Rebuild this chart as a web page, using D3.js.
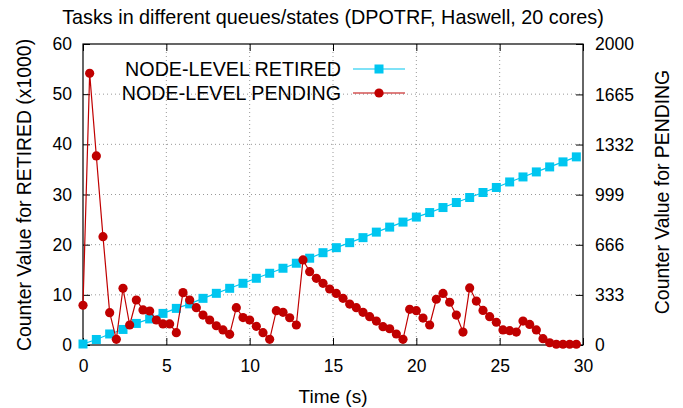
<!DOCTYPE html>
<html>
<head>
<meta charset="utf-8">
<script src="https://cdn.jsdelivr.net/npm/d3@7"></script>
<style>
  body { margin: 0; background: #fff; }
  text { font-family: "Liberation Sans", Arial, sans-serif; fill: #000; }
</style>
</head>
<body>
<svg width="683" height="408"></svg>
<script>
// sample times (s)
const retiredTimes = [0, 0.8, 1.6, 2.4, 3.2, 4.0, 4.8, 5.6, 6.4, 7.2, 8.0, 8.8, 9.6, 10.4,
  11.2, 12.0, 12.8, 13.6, 14.4, 15.2, 16.0, 16.8, 17.6, 18.4, 19.2, 20.0, 20.8, 21.6,
  22.4, 23.2, 24.0, 24.8, 25.6, 26.4, 27.2, 28.0, 28.8, 29.6];
// NODE-LEVEL RETIRED (x1000), left axis
const retiredValues = [0.2, 1.1, 2.2, 3.1, 4.3, 5.2, 6.3, 7.3, 8.2, 9.3, 10.3, 11.3, 12.3, 13.3,
  14.3, 15.3, 16.3, 17.3, 18.4, 19.4, 20.4, 21.4, 22.5, 23.5, 24.5, 25.5, 26.4, 27.4,
  28.4, 29.4, 30.4, 31.4, 32.5, 33.5, 34.5, 35.5, 36.5, 37.5];

const pendingTimes = [0, 0.4, 0.8, 1.2, 1.6, 2.0, 2.4, 2.8, 3.2, 3.6, 4.0, 4.4, 4.8, 5.2,
  5.6, 6.0, 6.4, 6.8, 7.2, 7.6, 8.0, 8.4, 8.8, 9.2, 9.6, 10.0, 10.4, 10.8, 11.2, 11.6,
  12.0, 12.4, 12.8, 13.2, 13.6, 14.0, 14.4, 14.8, 15.2, 15.6, 16.0, 16.4, 16.8, 17.2,
  17.6, 18.0, 18.4, 18.8, 19.2, 19.6, 20.0, 20.4, 20.8, 21.2, 21.6, 22.0, 22.4, 22.8,
  23.2, 23.6, 24.0, 24.4, 24.8, 25.2, 25.6, 26.0, 26.4, 26.8, 27.2, 27.6, 28.0, 28.4,
  28.8, 29.2, 29.6];
// NODE-LEVEL PENDING, right axis
const pendingValues = [264, 1805, 1256, 720, 215, 38, 377, 133, 299, 233, 226, 166, 140, 140,
  82, 348, 299, 248, 199, 166, 128, 100, 71, 248, 182, 166, 124, 82, 38, 228,
  217, 181, 133, 565, 487, 443, 410, 372, 343, 310, 272, 248, 217, 188,
  159, 122, 108, 73, 38, 237, 228, 179, 133, 304, 343, 284, 199, 86,
  379, 292, 230, 188, 151, 100, 95, 86, 159, 137, 100, 42, 15, 5,
  5, 5, 5];

const xTicks = [0, 5, 10, 15, 20, 25, 30];
const yTicks = [0, 10, 20, 30, 40, 50, 60];
const y2Ticks = [0, 333, 666, 999, 1332, 1665, 2000];

const svg = d3.select("svg");
const m = {left: 83, right: 583, top: 44, bottom: 345};
const cyan = "#00c6f0", red = "#c00000";

const x = d3.scaleLinear().domain([0, 30]).range([m.left, m.right]);
const y = d3.scaleLinear().domain([0, 60]).range([m.bottom, m.top]);
const y2 = d3.scaleLinear().domain([0, 2000]).range([m.bottom, m.top]);

// grid
const grid = svg.append("g").attr("stroke", "#999").attr("stroke-width", 1)
  .attr("stroke-dasharray", "1,3");
grid.selectAll(".gx").data(xTicks.slice(1, -1)).join("line")
  .attr("x1", d => x(d)).attr("x2", d => x(d))
  .attr("y1", m.top).attr("y2", m.bottom);
grid.selectAll(".gy").data(yTicks.slice(1, -1)).join("line")
  .attr("x1", m.left).attr("x2", m.right)
  .attr("y1", d => y(d)).attr("y2", d => y(d));

// axes with inward ticks
const tickFont = g => g.selectAll("text").style("font-size", "17.5px")
  .style("font-family", "'Liberation Sans', Arial, sans-serif").attr("fill", "#000");
const clean = g => { g.select(".domain").remove(); g.selectAll("line").attr("stroke", "#000"); };

svg.append("g").attr("transform", `translate(0,${m.bottom})`)
  .call(d3.axisBottom(x).tickValues(xTicks).tickSizeInner(-7).tickSizeOuter(0).tickPadding(15))
  .call(clean).call(tickFont);
svg.append("g").attr("transform", `translate(0,${m.top})`)
  .call(d3.axisTop(x).tickValues(xTicks).tickSizeInner(-7).tickSizeOuter(0).tickFormat(""))
  .call(clean);
svg.append("g").attr("transform", `translate(${m.left},0)`)
  .call(d3.axisLeft(y).tickValues(yTicks).tickSizeInner(-7).tickSizeOuter(0).tickPadding(11))
  .call(clean).call(tickFont);
svg.append("g").attr("transform", `translate(${m.right},0)`)
  .call(d3.axisRight(y2).tickValues(y2Ticks).tickFormat(d3.format("d"))
    .tickSizeInner(-7).tickSizeOuter(0).tickPadding(12))
  .call(clean).call(tickFont);

svg.append("rect").attr("x", m.left).attr("y", m.top)
  .attr("width", m.right - m.left).attr("height", m.bottom - m.top)
  .attr("fill", "none").attr("stroke", "#000").attr("stroke-width", 1.2);

// series
const retired = retiredTimes.map((t, i) => ({t, v: retiredValues[i]}));
const pending = pendingTimes.map((t, i) => ({t, v: pendingValues[i]}));

svg.append("path").datum(retired)
  .attr("fill", "none").attr("stroke", cyan).attr("stroke-width", 1.2)
  .attr("d", d3.line().x(d => x(d.t)).y(d => y(d.v)));
svg.append("g").selectAll("rect").data(retired).join("rect")
  .attr("x", d => x(d.t) - 4.5).attr("y", d => y(d.v) - 4.5)
  .attr("width", 9).attr("height", 9).attr("fill", cyan);

svg.append("path").datum(pending)
  .attr("fill", "none").attr("stroke", red).attr("stroke-width", 1.2)
  .attr("d", d3.line().x(d => x(d.t)).y(d => y2(d.v)));
svg.append("g").selectAll("circle").data(pending).join("circle")
  .attr("cx", d => x(d.t)).attr("cy", d => y2(d.v))
  .attr("r", 4.6).attr("fill", red);

// legend
const legend = [
  {label: "NODE-LEVEL RETIRED", color: cyan, shape: "square"},
  {label: "NODE-LEVEL PENDING", color: red, shape: "circle"}
];
const lg = svg.append("g");
legend.forEach((d, i) => {
  const ly = 69 + i * 24;
  lg.append("text").attr("x", 341).attr("y", ly).attr("dy", "0.36em")
    .attr("text-anchor", "end").style("font-size", "19.7px").text(d.label);
  lg.append("line").attr("x1", 353).attr("x2", 405).attr("y1", ly).attr("y2", ly)
    .attr("stroke", d.color).attr("stroke-width", 1.2);
  if (d.shape === "square")
    lg.append("rect").attr("x", 379 - 4.5).attr("y", ly - 4.5).attr("width", 9).attr("height", 9)
      .attr("fill", d.color);
  else
    lg.append("circle").attr("cx", 379).attr("cy", ly).attr("r", 4.6).attr("fill", d.color);
});

// labels
svg.append("text").attr("x", 333).attr("y", 24).attr("text-anchor", "middle")
  .style("font-size", "19.8px").text("Tasks in different queues/states (DPOTRF, Haswell, 20 cores)");
svg.append("text").attr("x", 333).attr("y", 403).attr("text-anchor", "middle")
  .style("font-size", "19px").text("Time (s)");
svg.append("text").attr("transform", "translate(31,195) rotate(-90)")
  .attr("text-anchor", "middle").style("font-size", "19.4px")
  .text("Counter Value for RETIRED (x1000)");
svg.append("text").attr("transform", "translate(669,192) rotate(-90)")
  .attr("text-anchor", "middle").style("font-size", "19.4px")
  .text("Counter Value for PENDING");
</script>
</body>
</html>
